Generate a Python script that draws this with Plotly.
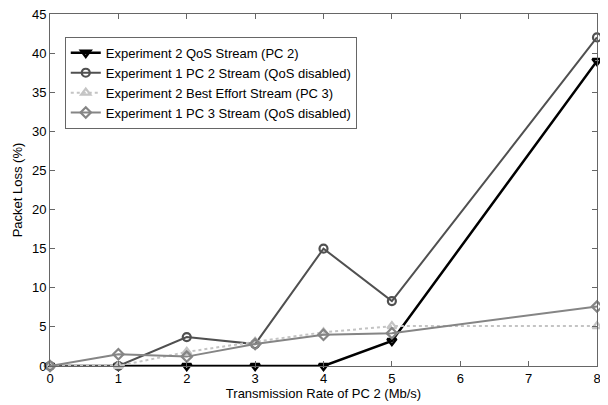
import plotly.graph_objects as go

x_rate = [0, 1, 2, 3, 4, 5, 8]
exp2_qos_pc2 = [0, 0, 0, 0, 0, 3.2, 39]
exp1_pc2 = [0, 0, 3.7, 2.8, 15, 8.3, 42]
exp2_be_pc3 = [0, 0, 1.8, 3.1, 4.3, 5.1, 5.1]
exp1_pc3 = [0, 1.5, 1.2, 2.8, 4.0, 4.2, 7.6]

names = [
    "Experiment 2 QoS Stream (PC 2)",
    "Experiment 1 PC 2 Stream (QoS disabled)",
    "Experiment 2 Best Effort Stream (PC 3)",
    "Experiment 1 PC 3 Stream (QoS disabled)",
]

fig = go.Figure()
fig.add_trace(go.Scatter(x=x_rate, y=exp2_qos_pc2, name=names[0], mode="lines+markers",
                         line=dict(color="#000000", width=2.5),
                         marker=dict(symbol="triangle-down-open", size=8, color="#000000", line=dict(width=2.5)),
                         cliponaxis=False))
fig.add_trace(go.Scatter(x=x_rate, y=exp1_pc2, name=names[1], mode="lines+markers",
                         line=dict(color="#505050", width=2),
                         marker=dict(symbol="circle-open", size=8, color="#505050", line=dict(width=2.2)),
                         cliponaxis=False))
fig.add_trace(go.Scatter(x=x_rate, y=exp2_be_pc3, name=names[2], mode="lines+markers",
                         line=dict(color="#c4c4c4", width=2, dash="dot"),
                         marker=dict(symbol="triangle-up-open", size=8, color="#c4c4c4", line=dict(width=2.2)),
                         cliponaxis=False))
fig.add_trace(go.Scatter(x=x_rate, y=exp1_pc3, name=names[3], mode="lines+markers",
                         line=dict(color="#858585", width=2),
                         marker=dict(symbol="diamond-open", size=8, color="#858585", line=dict(width=2.2)),
                         cliponaxis=False))

axis_common = dict(showgrid=False, zeroline=False, showline=True, linecolor="#666666", linewidth=1,
                   mirror="ticks", ticks="inside", ticklen=5, tickcolor="#666666",
                   automargin=False, ticklabeloverflow="allow",
                   tickfont=dict(family="Liberation Sans, Arial", size=13, color="#000000"))

fig.update_layout(
    template="none",
    width=608, height=405,
    margin=dict(l=42, r=19, t=6, b=47),
    paper_bgcolor="white", plot_bgcolor="white",
    font=dict(family="Liberation Sans, Arial", size=13, color="#000000"),
    xaxis=dict(range=[0, 8], tickvals=[0, 1, 2, 3, 4, 5, 6, 7, 8],
               title=dict(text="Transmission Rate of PC 2 (Mb/s)", standoff=4,
                          font=dict(size=13)), **axis_common),
    yaxis=dict(range=[0, 45], tickvals=[0, 5, 10, 15, 20, 25, 30, 35, 40, 45],
               title=dict(text="Packet Loss (%)", standoff=6, font=dict(size=13)), **axis_common),
    legend=dict(x=0.027, y=0.935, xanchor="left", yanchor="top",
                bgcolor="white", bordercolor="#666666", borderwidth=1,
                font=dict(size=13), tracegroupgap=0, itemsizing="trace"),
    showlegend=True,
)

fig.write_html("out.html")
